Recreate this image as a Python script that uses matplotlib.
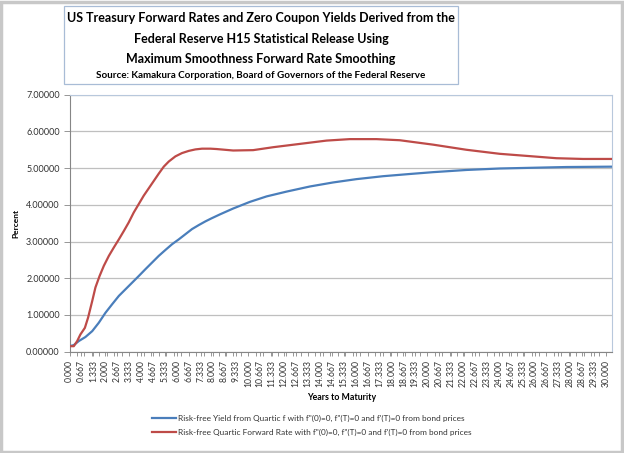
import matplotlib
matplotlib.use("Agg")
import matplotlib.pyplot as plt
from matplotlib.patches import Rectangle
import numpy as np

# ---- data ----
yield_years = [0.0, 0.24, 0.52, 0.89, 1.27, 1.64, 2.01, 2.38, 2.76, 3.13, 3.50, 3.87,
               4.25, 4.62, 4.99, 5.36, 5.74, 6.11, 6.48, 6.85, 7.23, 7.60, 7.93,
               8.41, 9.15, 10.08, 11.02, 12.13, 13.44, 14.74, 16.04, 17.53, 19.02,
               20.32, 22.19, 24.05, 25.91, 27.78, 30.33]
yield_vals = [0.15, 0.18, 0.29, 0.40, 0.56, 0.79, 1.06, 1.29, 1.52, 1.70, 1.88, 2.06,
              2.25, 2.43, 2.61, 2.77, 2.93, 3.06, 3.20, 3.34, 3.45, 3.55, 3.63,
              3.74, 3.90, 4.08, 4.23, 4.36, 4.50, 4.61, 4.70, 4.78, 4.84,
              4.89, 4.95, 4.99, 5.01, 5.03, 5.04]

fwd_years = [0.0, 0.24, 0.43, 0.61, 0.86, 1.04, 1.27, 1.45, 1.68, 1.92, 2.20, 2.48,
             2.76, 3.04, 3.31, 3.59, 3.87, 4.15, 4.43, 4.71, 4.99, 5.27, 5.55,
             5.92, 6.29, 6.67, 7.04, 7.41, 7.88, 8.22, 9.15, 10.27, 11.39, 12.88,
             14.37, 15.67, 17.16, 18.46, 20.32, 22.19, 24.05, 25.91, 27.22, 28.70, 30.33]
fwd_vals = [0.15, 0.15, 0.29, 0.47, 0.65, 0.93, 1.38, 1.75, 2.06, 2.34, 2.61, 2.84,
            3.06, 3.29, 3.52, 3.79, 4.02, 4.25, 4.45, 4.65, 4.85, 5.04, 5.18,
            5.32, 5.41, 5.47, 5.51, 5.53, 5.53, 5.52, 5.48, 5.49, 5.57, 5.66,
            5.75, 5.79, 5.79, 5.76, 5.64, 5.50, 5.39, 5.32, 5.27, 5.25, 5.25]

x_tick_vals = [k * 2.0 / 3.0 for k in range(46)]
x_tick_labels = [f"{v:.3f}" for v in x_tick_vals]
y_tick_vals = [0, 1, 2, 3, 4, 5, 6, 7]
y_tick_labels = [f"{v:.5f}" for v in y_tick_vals]

title_lines = ["US Treasury Forward Rates and Zero Coupon Yields Derived from the",
               "Federal Reserve H15 Statistical Release Using",
               "Maximum Smoothness Forward Rate Smoothing"]
source_line = "Source: Kamakura Corporation, Board of Governors of the Federal Reserve"
legend_labels = ['Risk-free Yield from Quartic f with f"(0)=0, f"(T)=0 and f\'(T)=0 from bond prices',
                 'Risk-free Quartic Forward Rate with f"(0)=0, f"(T)=0 and f\'(T)=0 from bond prices']

plt.rcParams['font.family'] = ['Lato', 'DejaVu Sans']

W, H = 624, 453
fig = plt.figure(figsize=(W / 100, H / 100), dpi=100)
fig.patch.set_facecolor('white')

# outer frame
fig.patches.append(Rectangle((1 / W, 1 / H), 1 - 3 / W, 1 - 3 / H, transform=fig.transFigure,
                             fill=False, edgecolor='#c8c8c8', lw=2.5))

ax = fig.add_axes([69.5 / W, 1 - 351.7 / H, (612 - 69.5) / W, (351.7 - 94.7) / H])

blue = '#4a7ebb'
red = '#be4b48'
ax.plot(yield_years, yield_vals, color=blue, lw=1.6, label=legend_labels[0], zorder=3)
ax.plot(fwd_years, fwd_vals, color=red, lw=1.6, label=legend_labels[1], zorder=3)

ax.set_xlim(0, 30.33)
ax.set_ylim(0, 7)
ax.set_yticks(y_tick_vals)
ax.set_yticklabels(y_tick_labels, fontsize=6.5, color='#333333')
ax.set_xticks(x_tick_vals)
ax.set_xticklabels(x_tick_labels, rotation=90, fontsize=6.2, color='#333333')
ax.set_xticks(np.arange(0, 30.34, 5.0 / 12.0), minor=True)
ax.tick_params(axis='x', which='both', length=3, width=0.6, color='#868686', pad=3)
ax.tick_params(axis='y', length=4, width=0.6, color='#868686', pad=3)
ax.grid(axis='y', color='#bfbfbf', lw=0.9, zorder=0)
ax.set_axisbelow(True)
for s in ['left', 'bottom']:
    ax.spines[s].set_color('#868686')
    ax.spines[s].set_linewidth(0.8)
for s in ['top', 'right']:
    ax.spines[s].set_color('#b8c8dc')
    ax.spines[s].set_linewidth(0.8)

ax.set_ylabel('Percent', fontsize=6, fontweight='bold')
ax.yaxis.set_label_coords(-50 / (612 - 69.5), 0.5)
fig.text(342 / W, 1 - 398 / H, 'Years to Maturity', fontsize=6.3, fontweight='bold',
         ha='center', va='center')

# title box
fig.patches.append(Rectangle((64 / W, 1 - 84 / H), (458 - 64) / W, (84 - 6) / H,
                             transform=fig.transFigure, fill=False, edgecolor='#a8bcd6', lw=0.9))
tc = 261 / W
for line, yy in zip(title_lines, [18, 39, 59]):
    fig.text(tc, 1 - yy / H, line, fontsize=9.0, fontweight='bold', ha='center', va='center')
fig.text(tc, 1 - 76 / H, source_line, fontsize=7.1, fontweight='bold', ha='center', va='center')

# legend
leg = fig.legend(loc='upper left', bbox_to_anchor=(152 / W, 1 - 415 / H), frameon=False,
                 fontsize=5.95, handlelength=2.9, handletextpad=0.2, labelspacing=0.75,
                 borderaxespad=0, borderpad=0)
for t in leg.get_texts():
    t.set_color('#333333')

fig.savefig('out.png', dpi=100)
